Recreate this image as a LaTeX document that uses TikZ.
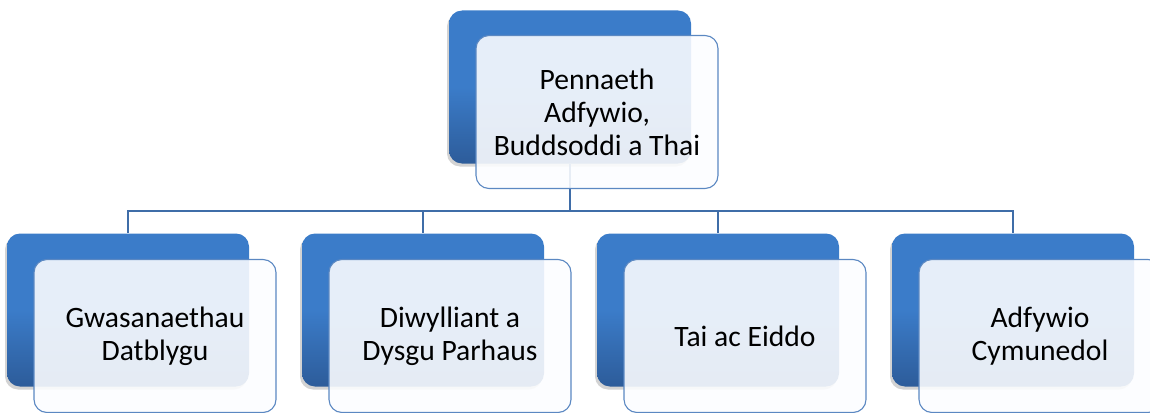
\documentclass[tikz,border=0pt]{standalone}
\usepackage{fontspec}
\setmainfont{Carlito}
\usetikzlibrary{shadows}
\definecolor{boxblue}{HTML}{3B7CC9}
\definecolor{boxdark}{HTML}{2D5C9A}
\definecolor{cardfill}{HTML}{FCFDFF}
\definecolor{cardline}{HTML}{5B88C2}
\definecolor{linkblue}{HTML}{3F6DA8}
\tikzset{
  backbox/.style={rounded corners=13pt, minimum width=242pt, minimum height=153pt,
    top color=boxblue, bottom color=boxdark, middle color=boxblue,
    drop shadow={shadow xshift=-2pt, shadow yshift=-3pt, opacity=0.35}},
  card/.style={rounded corners=13pt, minimum width=242pt, minimum height=153pt,
    draw=cardline, line width=1.1pt, fill=cardfill, fill opacity=0.89, text opacity=1,
    align=center, font=\fontsize{29.6}{33}\selectfont},
  link/.style={draw=linkblue, line width=1.2pt}
}
\begin{document}
\begin{tikzpicture}[x=1pt, y=-1pt]
  \useasboundingbox (0,0) rectangle (1150,412);
  % back boxes
  \node[backbox] (top) at (570,87) {};
  \node[backbox] (b1) at (128,310) {};
  \node[backbox] (b2) at (423,310) {};
  \node[backbox] (b3) at (718,310) {};
  \node[backbox] (b4) at (1013,310) {};
  % connectors
  \coordinate (bus) at (570,211);
  \draw[link] (top.south) -- (bus);
  \draw[link] (bus) -| (b1.north);
  \draw[link] (bus) -| (b2.north);
  \draw[link] (bus) -| (b3.north);
  \draw[link] (bus) -| (b4.north);
  % front cards
  \node[card] (topc) at (597,112) {Pennaeth\\Adfywio,\\Buddsoddi a Thai};
  \node[card] (c1) at (155,336) {Gwasanaethau\\Datblygu};
  \node[card] (c2) at (450,336) {Diwylliant a\\Dysgu Parhaus};
  \node[card] (c3) at (745,336) {Tai ac Eiddo};
  \node[card] (c4) at (1040,336) {Adfywio\\Cymunedol};
\end{tikzpicture}
\end{document}
